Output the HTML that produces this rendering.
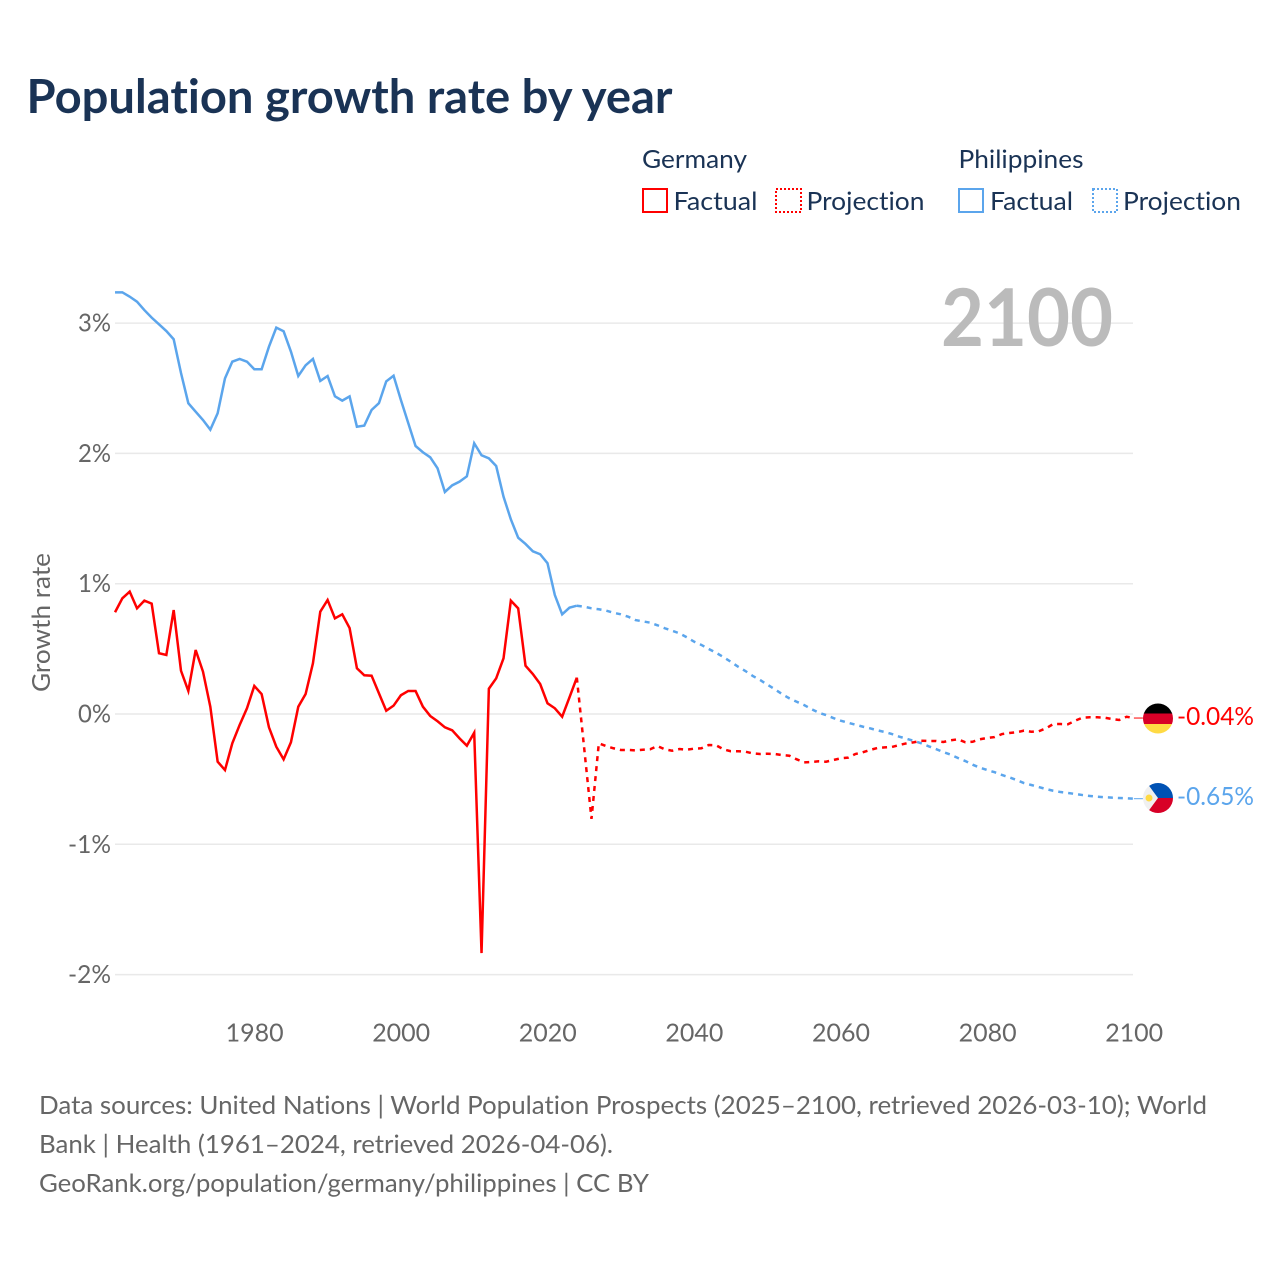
<!DOCTYPE html>
<html lang="en">
<head>
<meta charset="utf-8">
<title>Population growth rate by year</title>
<style>
html,body{margin:0;padding:0;background:#fff;width:1280px;height:1280px;overflow:hidden}
svg{display:block}
text{font-family:"Lato","Carlito","Liberation Sans",sans-serif;font-variant-ligatures:none;font-feature-settings:"liga" 0,"clig" 0}
</style>
</head>
<body>
<svg id="chart" xmlns="http://www.w3.org/2000/svg" width="1280" height="1280" viewBox="0 0 1280 1280">
  <rect x="0" y="0" width="1280" height="1280" fill="#ffffff"/>
  <text x="26.5" y="113" font-size="47" font-weight="700" fill="#1a3355" textLength="646" lengthAdjust="spacingAndGlyphs">Population growth rate by year</text>

  <g font-size="25" fill="#1a3355">
    <text x="642" y="168" textLength="105" lengthAdjust="spacingAndGlyphs">Germany</text>
    <text x="958.5" y="168" textLength="125" lengthAdjust="spacingAndGlyphs">Philippines</text>
    <rect x="643" y="189" width="24" height="23" fill="none" stroke="#ff0000" stroke-width="2"/>
    <text x="673.5" y="210" textLength="84" lengthAdjust="spacingAndGlyphs">Factual</text>
    <rect x="776" y="189" width="25" height="23" fill="none" stroke="#ff0000" stroke-width="2" stroke-dasharray="2 2"/>
    <text x="806.5" y="210" textLength="118" lengthAdjust="spacingAndGlyphs">Projection</text>
    <rect x="959" y="189" width="24" height="23" fill="none" stroke="#5ba5ec" stroke-width="2"/>
    <text x="990" y="210" textLength="83" lengthAdjust="spacingAndGlyphs">Factual</text>
    <rect x="1093" y="189" width="24" height="23" fill="none" stroke="#5ba5ec" stroke-width="2" stroke-dasharray="2 2"/>
    <text x="1123" y="210" textLength="118" lengthAdjust="spacingAndGlyphs">Projection</text>
  </g>

  <g id="grid"></g>
  <text x="941" y="346" font-size="80" font-weight="700" fill="#bbbbbb" textLength="172" lengthAdjust="spacingAndGlyphs">2100</text>
  <g id="ylabels" font-size="25" fill="#666666"></g>
  <g id="xlabels" font-size="25" fill="#666666"></g>
  <text transform="translate(50,692) rotate(-90)" font-size="25" fill="#666666" textLength="139" lengthAdjust="spacingAndGlyphs">Growth rate</text>
  <g id="series"></g>

  <g>
    <clipPath id="clip-de"><circle cx="1158" cy="718.5" r="15"/></clipPath>
    <g clip-path="url(#clip-de)">
      <rect x="1143" y="703" width="30" height="11" fill="#000000"/>
      <rect x="1143" y="713.5" width="30" height="10.5" fill="#d80027"/>
      <rect x="1143" y="724" width="30" height="11" fill="#ffda44"/>
    </g>
  </g>
  <g>
    <clipPath id="clip-ph"><circle cx="1158" cy="798" r="15"/></clipPath>
    <g clip-path="url(#clip-ph)">
      <rect x="1143" y="783" width="30" height="30" fill="#f0f0f0"/>
      <polygon points="1147,783 1173,783 1173,798 1158,798" fill="#0052b4"/>
      <polygon points="1147,813 1173,813 1173,798 1158,798" fill="#d80027"/>
      <circle cx="1149" cy="798" r="3.5" fill="#ffda44"/>
    </g>
  </g>
  <text x="1177" y="725" font-size="25" fill="#ff0000" textLength="77" lengthAdjust="spacingAndGlyphs">-0.04%</text>
  <text x="1177" y="805" font-size="25" fill="#5ba5ec" textLength="77" lengthAdjust="spacingAndGlyphs">-0.65%</text>

  <g font-size="25" fill="#666666">
    <text x="39" y="1114" textLength="1168" lengthAdjust="spacingAndGlyphs">Data sources: United Nations | World Population Prospects (2025–2100, retrieved 2026-03-10); World</text>
    <text x="39" y="1153" textLength="574" lengthAdjust="spacingAndGlyphs">Bank | Health (1961–2024, retrieved 2026-04-06).</text>
    <text x="39" y="1192" textLength="610" lengthAdjust="spacingAndGlyphs">GeoRank.org/population/germany/philippines | CC BY</text>
  </g>
</svg>
<script>
const xTickYears = [1980, 2000, 2020, 2040, 2060, 2080, 2100];
const yTickValues = [3, 2, 1, 0, -1, -2];
const factualStartYear = 1961;
const projectionStartYear = 2024;

const philippinesFactual = [
  3.236, 3.236, 3.203, 3.164, 3.100, 3.042, 2.991, 2.939, 2.876,
  2.617, 2.385, 2.320, 2.256, 2.182, 2.308, 2.576, 2.704, 2.725, 2.704,
  2.646, 2.646, 2.819, 2.965, 2.937, 2.781, 2.594, 2.676, 2.725, 2.556,
  2.594, 2.438, 2.405, 2.437, 2.205, 2.213, 2.333, 2.385, 2.553, 2.596,
  2.410, 2.233, 2.057, 2.009, 1.970, 1.886, 1.704, 1.755, 1.783, 1.824,
  2.078, 1.986, 1.962, 1.903, 1.668, 1.494, 1.353, 1.305, 1.249, 1.226,
  1.157, 0.913, 0.765, 0.816, 0.831
];
const philippinesProjection = [
  0.831,
  0.824, 0.811, 0.804, 0.793, 0.777,
  0.765, 0.747, 0.721, 0.711, 0.701, 0.681, 0.658, 0.639, 0.619, 0.589,
  0.555, 0.530, 0.499, 0.470, 0.437, 0.401, 0.363, 0.330, 0.292, 0.261,
  0.225, 0.190, 0.153, 0.120, 0.094, 0.069, 0.038, 0.010, -0.008, -0.031,
  -0.051, -0.067, -0.082, -0.097, -0.110, -0.125, -0.138, -0.154, -0.174, -0.190,
  -0.207, -0.225, -0.248, -0.269, -0.292, -0.312, -0.338, -0.361, -0.389, -0.412,
  -0.430, -0.447, -0.468, -0.486, -0.507, -0.530, -0.545, -0.560, -0.576, -0.589,
  -0.599, -0.606, -0.614, -0.622, -0.629, -0.635, -0.639, -0.642, -0.645, -0.647,
  -0.650
];
const germanyFactual = [
  0.781, 0.888, 0.939, 0.811, 0.870, 0.847, 0.466, 0.453, 0.798,
  0.332, 0.177, 0.491, 0.325, 0.056, -0.366, -0.430, -0.225, -0.084, 0.044,
  0.215, 0.153, -0.102, -0.251, -0.348, -0.217, 0.056, 0.153, 0.389, 0.785,
  0.875, 0.734, 0.765, 0.660, 0.351, 0.297, 0.294, 0.159, 0.025, 0.064,
  0.144, 0.177, 0.177, 0.056, -0.015, -0.056, -0.102, -0.125, -0.187, -0.243,
  -0.144, -1.835, 0.194, 0.274, 0.427, 0.870, 0.811, 0.371, 0.307, 0.230,
  0.082, 0.044, -0.021, 0.128, 0.279
];
const germanyProjection = [
  0.279,
  -0.260, -0.805, -0.225, -0.246, -0.263,
  -0.276, -0.276, -0.279, -0.274, -0.271, -0.246, -0.271, -0.282, -0.269, -0.274,
  -0.266, -0.263, -0.238, -0.240, -0.271, -0.286, -0.286, -0.289, -0.302, -0.307,
  -0.305, -0.307, -0.315, -0.320, -0.348, -0.371, -0.368, -0.363, -0.366, -0.353,
  -0.340, -0.335, -0.307, -0.294, -0.276, -0.261, -0.256, -0.253, -0.238, -0.225,
  -0.217, -0.205, -0.207, -0.207, -0.215, -0.202, -0.194, -0.217, -0.213, -0.194,
  -0.184, -0.177, -0.154, -0.146, -0.140, -0.128, -0.136, -0.133, -0.110, -0.077,
  -0.077, -0.079, -0.051, -0.028, -0.025, -0.025, -0.028, -0.038, -0.046, -0.021,
  -0.031
];

const SVG_NS = 'http://www.w3.org/2000/svg';
function xScale(year) { return 254.3 + (year - 1980) * 7.33; }
function yScale(value) { return 714 - value * 130.3; }
function pathFor(values, startYear) {
  return values.map(function (v, i) {
    return (i ? 'L' : 'M') + xScale(startYear + i).toFixed(2) + ' ' + yScale(v).toFixed(2);
  }).join(' ');
}
function drawLine(values, startYear, color, dashed, name) {
  const p = document.createElementNS(SVG_NS, 'path');
  
  
  p.setAttribute('d', pathFor(values, startYear));
  p.setAttribute('fill', 'none');
  p.setAttribute('stroke', color);
  p.setAttribute('stroke-width', '2.5');
  p.setAttribute('stroke-linejoin', 'miter');
  p.setAttribute('stroke-miterlimit', '4');
  if (dashed) p.setAttribute('stroke-dasharray', '5 5');
  document.getElementById('series').appendChild(p);
}
function drawConnector(value, color, name) {
  const c = document.createElementNS(SVG_NS, 'line');
  
  
  c.setAttribute('x1', xScale(2100));
  c.setAttribute('x2', xScale(2100) + 9);
  c.setAttribute('y1', yScale(value));
  c.setAttribute('y2', yScale(value));
  c.setAttribute('stroke', color);
  c.setAttribute('stroke-width', '1');
  document.getElementById('series').appendChild(c);
}

yTickValues.forEach(function (v) {
  const g = document.createElementNS(SVG_NS, 'line');
  
  
  g.setAttribute('x1', '115');
  g.setAttribute('x2', '1133');
  g.setAttribute('y1', yScale(v));
  g.setAttribute('y2', yScale(v));
  g.setAttribute('stroke', '#e9e9e9');
  g.setAttribute('stroke-width', '1.5');
  document.getElementById('grid').appendChild(g);

  const t = document.createElementNS(SVG_NS, 'text');
  
  
  const w = v < 0 ? 43 : 33;
  t.setAttribute('x', 111 - w);
  t.setAttribute('y', yScale(v) + 8.5);
  t.setAttribute('textLength', w);
  t.setAttribute('lengthAdjust', 'spacingAndGlyphs');
  t.textContent = v + '%';
  document.getElementById('ylabels').appendChild(t);
});

xTickYears.forEach(function (year) {
  const t = document.createElementNS(SVG_NS, 'text');
  
  
  t.setAttribute('x', xScale(year) - 28.7);
  t.setAttribute('y', '1041.5');
  t.setAttribute('textLength', '58');
  t.setAttribute('lengthAdjust', 'spacingAndGlyphs');
  t.textContent = String(year);
  document.getElementById('xlabels').appendChild(t);
});

drawLine(philippinesFactual, factualStartYear, '#5ba5ec', false, 'line-philippines-factual');
drawLine(philippinesProjection, projectionStartYear, '#5ba5ec', true, 'line-philippines-projection');
drawLine(germanyFactual, factualStartYear, '#ff0000', false, 'line-germany-factual');
drawLine(germanyProjection, projectionStartYear, '#ff0000', true, 'line-germany-projection');
drawConnector(germanyProjection[germanyProjection.length - 1], '#ff0000', 'connector-germany');
drawConnector(philippinesProjection[philippinesProjection.length - 1], '#5ba5ec', 'connector-philippines');
</script>
</body>
</html>
